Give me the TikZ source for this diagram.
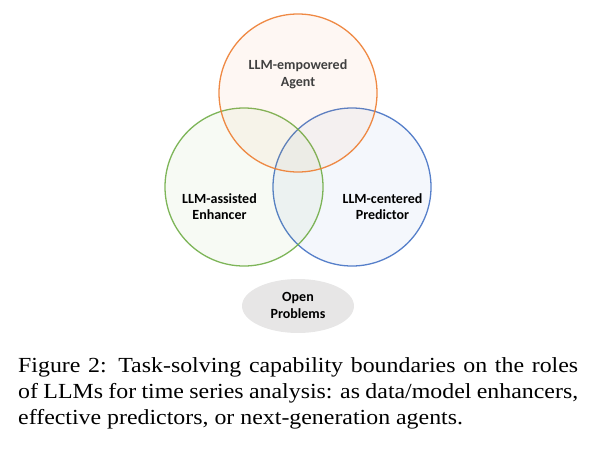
\documentclass[tikz,border=0pt]{standalone}
\usepackage{fontspec}
\setmainfont[FakeStretch=1.11]{Liberation Serif}
\newfontfamily\lbl{Carlito}
\usetikzlibrary{shapes.geometric}
\definecolor{cOrange}{HTML}{ED7D31}
\definecolor{cGreen}{HTML}{70AD47}
\definecolor{cBlue}{HTML}{4472C4}
\definecolor{cGray}{HTML}{E7E6E6}
\definecolor{cText}{HTML}{404040}
\tikzset{
  venn/.style={circle, minimum size=158pt, inner sep=0pt, line width=1.3pt, fill opacity=0.06, draw opacity=0.9},
  lab/.style={font=\lbl\bfseries\fontsize{14}{16.5}\selectfont, align=center, text opacity=1},
}
\begin{document}
\begin{tikzpicture}[x=1pt,y=-1pt]
\useasboundingbox (0,0) rectangle (610,452);
\node[venn, draw=cBlue, fill=cBlue] (pred) at (352,187) {};
\node[venn, draw=cGreen, fill=cGreen] (enh) at (244,187) {};
\node[venn, draw=cOrange, fill=cOrange] (agent) at (298,93) {};
\node[lab, text=cText, anchor=base] (tagent) at (298,86) {LLM-empowered\\Agent};
\node[lab, anchor=base] (tenh) at (219.5,219.5) {LLM-assisted\\Enhancer};
\node[lab, anchor=base] (tpred) at (382.5,219.5) {LLM-centered\\Predictor};
\node[ellipse, fill=cGray, minimum width=112pt, minimum height=54pt, inner sep=0pt] (open) at (298,306) {};
\node[lab, anchor=base] (topen) at (298,318) {Open\\Problems};
\node[anchor=base west, align=justify, text width=560pt, inner sep=0pt, font=\fontsize{21.5}{26}\selectfont] (cap) at (18,372)
  {Figure 2: Task-solving capability boundaries on the roles
   of LLMs for time series analysis: as data/model enhancers,
   effective predictors, or next-generation agents.};
\end{tikzpicture}
\end{document}
